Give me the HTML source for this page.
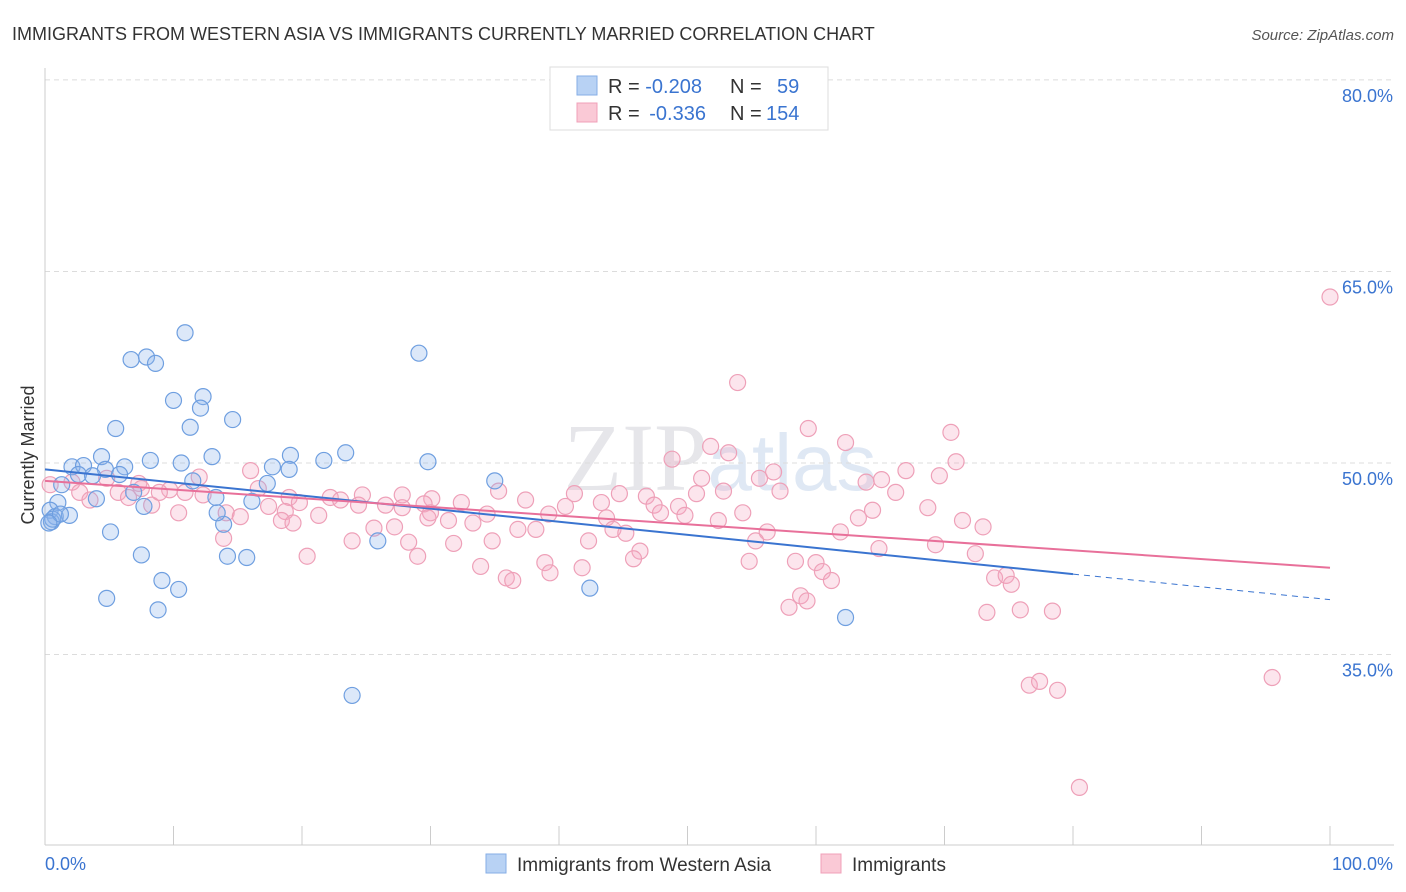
<!DOCTYPE html>
<html><head><meta charset="utf-8"><style>
body{margin:0;background:#fff;font-family:"Liberation Sans",sans-serif;}
svg{display:block}
</style></head><body>
<svg id="chart" width="1406" height="892">
<text x="12" y="40" font-size="18" fill="#333">IMMIGRANTS FROM WESTERN ASIA VS IMMIGRANTS CURRENTLY MARRIED CORRELATION CHART</text>
<text x="1394" y="40" font-size="15" fill="#555" font-style="italic" text-anchor="end">Source: ZipAtlas.com</text>
<text x="720" y="490" font-size="96" fill="#e6e6ea" text-anchor="middle" font-family="Liberation Serif">ZIP<tspan fill="#dfe8f4" font-family="Liberation Sans" font-size="80">atlas</tspan></text>
<g id="grid"></g>
<g id="axes"></g>
<g id="pts"></g>
<g id="trends"></g>
<text x="34" y="455" font-size="18" fill="#333" text-anchor="middle" transform="rotate(-90 34 455)">Currently Married</text>
<g>
<rect x="550" y="67" width="278" height="63" fill="#fff" stroke="#ddd"/>
<rect x="577" y="76" width="20" height="19" fill="#b8d2f4" stroke="#86aee6"/>
<rect x="577" y="103" width="20" height="19" fill="#fac9d6" stroke="#f0a0b8"/>
<text x="608" y="93" font-size="20" fill="#333">R = <tspan fill="#3a74d0">-0.208</tspan><tspan x="730">N = </tspan><tspan x="777" fill="#3a74d0">59</tspan></text>
<text x="608" y="120" font-size="20" fill="#333">R = <tspan fill="#3a74d0" dx="4">-0.336</tspan><tspan x="730">N = </tspan><tspan x="766" fill="#3a74d0">154</tspan></text>
</g>
<g>
<rect x="486" y="854" width="20" height="19" fill="#b8d2f4" stroke="#86aee6"/>
<text x="517" y="871" font-size="19" fill="#333">Immigrants from Western Asia</text>
<rect x="821" y="854" width="20" height="19" fill="#fac9d6" stroke="#f0a0b8"/>
<text x="852" y="871" font-size="19" fill="#333">Immigrants</text>
</g>
</svg>
<script>
const yTicks=[35,50,65,80];
const yTickLabels=["35.0%","50.0%","65.0%","80.0%"];
const xTickLabels=["0.0%","100.0%"];
const blueX=[10.9,6.7,7.9,8.6,29.1,10.0,12.3,12.1,14.6,5.5,11.3,23.4,19.1,13.0,4.4,8.2,10.6,21.7,29.8,17.7,19.0,2.1,3.0,6.2,4.7,2.6,3.7,5.8,35.0,11.5,17.3,1.3,6.9,4.0,13.3,16.1,7.7,1.0,0.4,0.8,1.9,0.5,13.9,5.1,25.9,7.5,14.2,15.7,9.1,10.4,4.8,8.8,42.4,62.3,23.9,13.4,0.6,1.2,0.3];
const blueY=[60.2,58.1,58.3,57.8,58.6,54.9,55.2,54.3,53.4,52.7,52.8,50.8,50.6,50.5,50.5,50.2,50.0,50.2,50.1,49.7,49.5,49.7,49.8,49.7,49.5,49.1,49.0,49.1,48.6,48.6,48.4,48.3,47.7,47.2,47.3,47.0,46.6,46.9,46.3,45.8,45.9,45.4,45.2,44.6,43.9,42.8,42.7,42.6,40.8,40.1,39.4,38.5,40.2,37.9,31.8,46.1,45.6,46.0,45.3];
const pinkX=[100,53.9,59.4,70.5,51.8,62.3,53.2,48.8,70.9,56.7,67.0,69.6,16.0,51.1,55.6,65.1,63.9,52.8,12.0,0.4,2.1,4.8,7.3,9.7,10.9,12.3,16.6,19.0,22.2,24.7,27.8,30.1,35.3,41.2,44.7,46.8,50.7,57.2,66.2,2.7,5.7,3.5,6.5,8.3,17.4,19.8,23.0,24.4,26.5,29.5,32.4,37.4,40.5,43.3,47.4,49.3,10.4,14.1,15.2,18.7,21.3,27.8,30.0,34.4,39.2,47.9,49.8,54.3,64.4,68.7,18.4,19.3,29.8,31.4,33.3,43.7,52.4,63.3,71.4,73.0,25.6,27.2,36.8,38.2,44.2,45.2,56.2,61.9,13.9,23.9,28.3,31.8,34.8,42.3,55.3,69.3,20.4,29.0,46.3,64.9,72.4,45.8,54.8,58.4,60.0,38.9,33.9,41.8,60.5,61.2,35.9,36.4,39.3,73.9,74.8,75.2,58.8,59.3,57.9,73.3,75.9,78.4,76.6,77.4,78.8,95.5,80.5,7.5,8.9];
const pinkY=[63.0,56.3,52.7,52.4,51.3,51.6,50.8,50.3,50.1,49.3,49.4,49.0,49.4,48.8,48.8,48.7,48.5,47.8,48.9,48.3,48.5,48.8,48.4,47.9,47.7,47.5,48.0,47.3,47.3,47.5,47.5,47.2,47.8,47.6,47.6,47.4,47.6,47.8,47.7,47.7,47.7,47.1,47.3,46.7,46.6,46.9,47.1,46.7,46.7,46.8,46.9,47.1,46.6,46.9,46.7,46.6,46.1,46.1,45.8,46.2,45.9,46.5,46.1,46.0,46.0,46.1,45.9,46.1,46.3,46.5,45.5,45.3,45.7,45.5,45.3,45.7,45.5,45.7,45.5,45.0,44.9,45.0,44.8,44.8,44.8,44.5,44.6,44.6,44.1,43.9,43.8,43.7,43.9,43.9,43.9,43.6,42.7,42.7,43.1,43.3,42.9,42.5,42.3,42.3,42.2,42.2,41.9,41.8,41.5,40.8,41.0,40.8,41.4,41.0,41.2,40.5,39.6,39.2,38.7,38.3,38.5,38.4,32.6,32.9,32.2,33.2,24.6,48.0,47.7];
const blueTrend=[[0,49.5],[80,41.3],[100,39.3]];
const pinkTrend=[[0,48.6],[100,41.8]];
const NS="http://www.w3.org/2000/svg";
const X=v=>45+v*12.85, Y=v=>463-(v-50)*12.77;
function mk(t,a,p){const e=document.createElementNS(NS,t);for(const k in a)e.setAttribute(k,a[k]);p.appendChild(e);return e;}
const grid=document.getElementById('grid'),axes=document.getElementById('axes');
yTicks.forEach((t,i)=>{
 const l=mk('line',{x1:45,x2:1394,y1:Y(t),y2:Y(t),stroke:'#dcdcdc','stroke-dasharray':'5,4'},grid);
 
 
 const tx=mk('text',{x:1393,y:Y(t)+22,'font-size':18,fill:'#3a74d0','text-anchor':'end'},axes);
 tx.textContent=yTickLabels[i];
 
 
});
mk('line',{x1:45,x2:45,y1:68,y2:845,stroke:'#ccc'},axes);
mk('line',{x1:45,x2:1394,y1:845,y2:845,stroke:'#ccc'},axes);
for(let i=0;i<=10;i++){const t=mk('line',{x1:X(i*10),x2:X(i*10),y1:826,y2:845,stroke:'#ccc'},axes);
 
 }
[[0,'start',45],[1,'end',1393]].forEach(([i,a,x])=>{const t=mk('text',{x:x,y:870,'font-size':18,fill:'#3a74d0','text-anchor':a},axes);t.textContent=xTickLabels[i];
 
 });
const pts=document.getElementById('pts');
pinkX.forEach((x,i)=>{const c=mk('circle',{cx:X(x),cy:Y(pinkY[i]),r:8,fill:'rgba(246,170,195,0.3)',stroke:'#eea0b8','stroke-width':1.2},pts);
 
 });
blueX.forEach((x,i)=>{const c=mk('circle',{cx:X(x),cy:Y(blueY[i]),r:8,fill:'rgba(140,180,235,0.3)',stroke:'#6f9fe0','stroke-width':1.2},pts);
 
 });
const tr=document.getElementById('trends');
let l=mk('line',{x1:X(blueTrend[0][0]),y1:Y(blueTrend[0][1]),x2:X(blueTrend[1][0]),y2:Y(blueTrend[1][1]),stroke:'#3a74d0','stroke-width':2},tr);


l=mk('line',{x1:X(blueTrend[1][0]),y1:Y(blueTrend[1][1]),x2:X(blueTrend[2][0]),y2:Y(blueTrend[2][1]),stroke:'#3a74d0','stroke-width':1,'stroke-dasharray':'6,5'},tr);


l=mk('line',{x1:X(pinkTrend[0][0]),y1:Y(pinkTrend[0][1]),x2:X(pinkTrend[1][0]),y2:Y(pinkTrend[1][1]),stroke:'#e8709a','stroke-width':2},tr);


</script>
</body></html>
